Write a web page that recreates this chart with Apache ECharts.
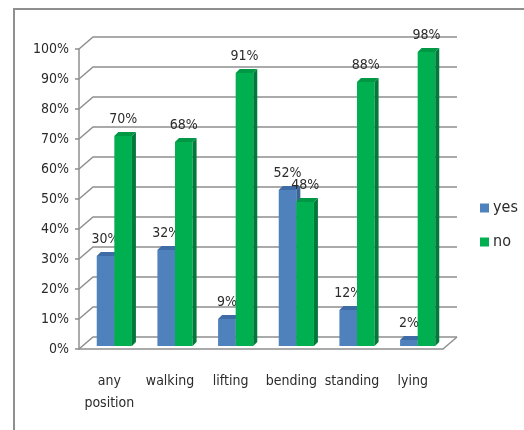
<!DOCTYPE html>
<html>
<head>
<meta charset="utf-8">
<style>
  html, body { margin: 0; padding: 0; background: #fff; }
  #chart { width: 524px; height: 430px; }
</style>
<script src="https://cdn.jsdelivr.net/npm/echarts@6/dist/echarts.min.js"></script>
</head>
<body>
<div id="chart"></div>
<script>
// Positions by category, share answering yes / no (percent)
const categories = ['any\nposition', 'walking', 'lifting', 'bending', 'standing', 'lying'];
const yesValues = [30, 32, 9, 52, 12, 2];
const noValues = [70, 68, 91, 48, 88, 98];
const yTicks = [0, 10, 20, 30, 40, 50, 60, 70, 80, 90, 100];

const FONT = '"DejaVu Sans Condensed", "Liberation Sans Narrow", "Liberation Sans", sans-serif';
const GRID_COLOR = '#8f8f8f';
const TEXT_COLOR = '#2b2b2b';

// Perspective offsets: back wall depth, bar placement depth, bar thickness
const WALL_DX = 14, WALL_DY = 12;
const BAR_DX = 5, BAR_DY = 3;
const CAP = 4;

function wallRenderer(params, api) {
  const cs = params.coordSys;
  const v = api.value(1);
  const y = api.coord([0, v])[1];
  const x0 = cs.x, x1 = cs.x + cs.width;
  const style = { stroke: GRID_COLOR, lineWidth: 1.5, fill: null };
  const children = [{
    type: 'polyline',
    shape: { points: [[x0, y], [x0 + WALL_DX, y - WALL_DY], [x1 + WALL_DX, y - WALL_DY]] },
    style: style
  }];
  if (v === 0) {
    children.push({
      type: 'line',
      shape: { x1: x1, y1: y, x2: x1 + WALL_DX, y2: y - WALL_DY },
      style: style
    });
  }
  return { type: 'group', children: children };
}

function barRenderer(side, colors) {
  return function (params, api) {
    const idx = api.value(0);
    const val = api.value(1);
    const top = api.coord([idx, val]);
    const base = api.coord([idx, 0]);
    const band = api.size([1, 0])[0];
    const bw = band * 0.29;
    const left = top[0] + BAR_DX + (side < 0 ? -bw : 0);
    const right = left + bw;
    const yT = top[1] - BAR_DY;
    const yB = base[1] - BAR_DY;
    return {
      type: 'group',
      children: [
        {
          type: 'rect',
          shape: { x: left, y: yT, width: bw, height: yB - yT },
          style: { fill: colors.front }
        },
        {
          type: 'polygon',
          shape: { points: [[right, yT], [right + CAP, yT - CAP], [right + CAP, yB - CAP], [right, yB]] },
          style: { fill: colors.side }
        },
        {
          type: 'polygon',
          shape: { points: [[left, yT], [left + CAP, yT - CAP], [right + CAP, yT - CAP], [right, yT]] },
          style: { fill: colors.top }
        },
        {
          type: 'text',
          style: {
            text: val + '%',
            x: left + bw / 2,
            y: yT - CAP - 6,
            align: 'center',
            verticalAlign: 'bottom',
            fill: TEXT_COLOR,
            font: '14px ' + FONT
          }
        }
      ]
    };
  };
}

const yesColors = { front: '#4f81bd', side: '#3a6497', top: '#3f6ca6' };
const noColors = { front: '#00b050', side: '#00793a', top: '#009844' };

const chart = echarts.init(document.getElementById('chart'), null, { renderer: 'canvas' });
chart.setOption({
  animation: false,
  backgroundColor: '#fff',
  textStyle: { fontFamily: FONT },
  graphic: [{
    type: 'rect',
    shape: { x: 14, y: 9, width: 700, height: 700 },
    style: { fill: null, stroke: '#8f8f8f', lineWidth: 2 },
    silent: true
  }],
  grid: { left: 79, right: 81, top: 49, bottom: 81, containLabel: false },
  legend: {
    orient: 'vertical',
    left: 475,
    top: 195,
    itemWidth: 9,
    itemHeight: 9,
    itemGap: 18,
    icon: 'rect',
    textStyle: { fontSize: 16, color: TEXT_COLOR, fontFamily: FONT, padding: [0, 0, 0, -1] },
    data: ['yes', 'no']
  },
  xAxis: {
    type: 'category',
    data: categories,
    axisLine: { lineStyle: { color: GRID_COLOR, width: 1.5 } },
    axisTick: { length: 7, lineStyle: { color: GRID_COLOR, width: 1.5 } },
    axisLabel: { fontSize: 14, color: TEXT_COLOR, margin: 21, lineHeight: 22, interval: 0, fontFamily: FONT },
    splitLine: { show: false }
  },
  yAxis: {
    type: 'value',
    min: 0,
    max: 100,
    interval: 10,
    axisLine: { show: true, lineStyle: { color: GRID_COLOR, width: 1.5 } },
    axisTick: { show: true, length: 4, lineStyle: { color: GRID_COLOR, width: 1.5 } },
    axisLabel: { formatter: '{value}%', fontSize: 14, color: TEXT_COLOR, margin: 10, fontFamily: FONT },
    splitLine: { show: false }
  },
  series: [
    {
      name: 'walls',
      type: 'custom',
      silent: true,
      z: 1,
      renderItem: wallRenderer,
      data: yTicks.map(function (v) { return [0, v]; })
    },
    {
      name: 'yes',
      type: 'custom',
      z: 2,
      itemStyle: { color: yesColors.front },
      renderItem: barRenderer(-1, yesColors),
      data: yesValues.map(function (v, i) { return [i, v]; })
    },
    {
      name: 'no',
      type: 'custom',
      z: 3,
      itemStyle: { color: noColors.front },
      renderItem: barRenderer(1, noColors),
      data: noValues.map(function (v, i) { return [i, v]; })
    }
  ]
});
</script>
</body>
</html>
